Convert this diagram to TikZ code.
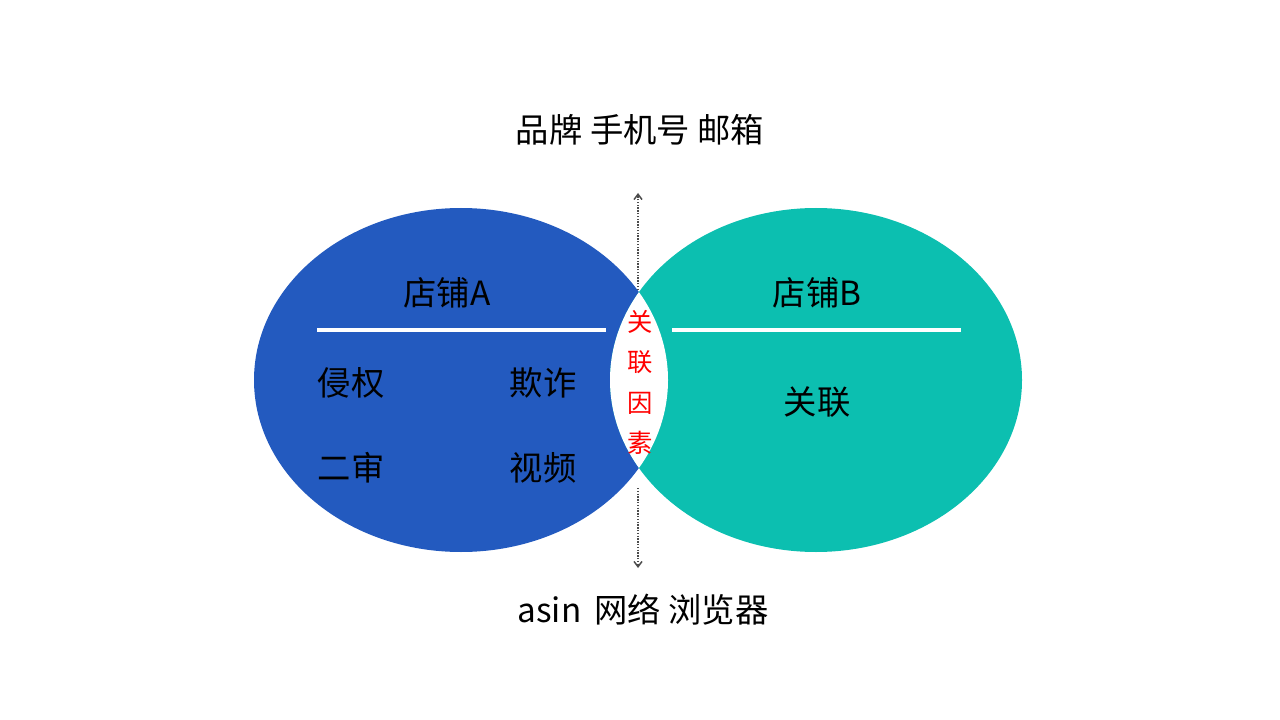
\documentclass[tikz,border=0pt]{standalone}
\usepackage{fontspec}
\setmainfont{Noto Sans CJK SC}
\usetikzlibrary{arrows.meta}
\definecolor{blueA}{HTML}{235ABF}
\definecolor{tealB}{HTML}{0CBFB0}
\tikzset{
  big/.style={font=\fontsize{25}{30}\selectfont, text=black},
  red/.style={font=\fontsize{19}{22}\selectfont, text=red},
  sep/.style={white, line width=2.4pt},
  dot/.style={densely dotted, line width=1.1pt, draw=black!70, -{Straight Barb[length=4pt,width=6pt]}}
}
\begin{document}
\begin{tikzpicture}[x=0.75pt,y=-0.75pt]
\useasboundingbox (0,0) rectangle (1280,720);
\fill[blueA] (461,380) ellipse [x radius=207, y radius=172];
\fill[tealB] (816,380) ellipse [x radius=206, y radius=172];
\begin{scope}
\clip (461,380) ellipse [x radius=207, y radius=172];
\fill[white] (816,380) ellipse [x radius=206, y radius=172];
\end{scope}
\draw[sep] (317,330) -- (606,330);
\draw[sep] (672,330) -- (961,330);
\node[big] (t) at (640,130) {品牌 手机号 邮箱};
\node[big] (b) at (643,610) {asin\, 网络 浏览器};
\node[big] (a) at (447,293) {店铺A};
\node[big] (bb) at (817,293) {店铺B};
\node[big] (q) at (351,383) {侵权};
\node[big] (z) at (543,383) {欺诈};
\node[big] (e) at (351,468) {二审};
\node[big] (s) at (543,468) {视频};
\node[big] (g) at (817,402) {关联};
\node[red] (r1) at (640,322) {关};
\node[red] (r2) at (640,362) {联};
\node[red] (r3) at (640,403) {因};
\node[red] (r4) at (640,443) {素};
\coordinate (u0) at (638,290);
\coordinate (u1) at (638,193);
\coordinate (d0) at (638,488);
\coordinate (d1) at (638,568);
\draw[dot] (u0) -- (u1);
\draw[dot] (d0) -- (d1);
\end{tikzpicture}
\end{document}
